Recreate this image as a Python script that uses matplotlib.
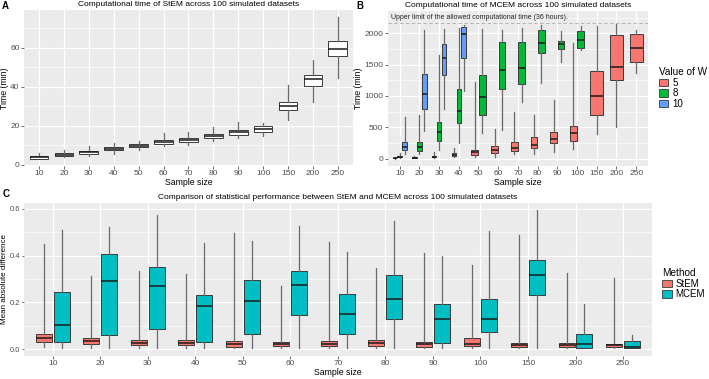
import matplotlib
matplotlib.use("Agg")
import matplotlib.pyplot as plt
from matplotlib.patches import Patch
from matplotlib.ticker import MultipleLocator

plt.rcParams["font.family"] = ["Liberation Sans", "DejaVu Sans"]

sizes = ["10", "20", "30", "40", "50", "60", "70", "80", "90", "100", "150", "200", "250"]

# Panel A: StEM computational time (min), box stats per sample size
stem_lo = [2.9, 3.8, 4.5, 5.5, 7.5, 9.5, 10.0, 11.9, 13.6, 14.5, 22.7, 32.0, 44.4]
stem_q1 = [3.1, 4.5, 5.5, 7.3, 8.8, 10.7, 11.7, 13.8, 15.3, 16.9, 27.8, 40.3, 55.8]
stem_med = [3.8, 5.2, 6.4, 8.2, 9.6, 11.6, 12.7, 14.8, 16.8, 18.3, 29.9, 43.7, 59.3]
stem_q3 = [4.5, 5.9, 7.2, 9.0, 10.5, 12.4, 13.8, 15.8, 17.9, 19.6, 32.0, 46.1, 63.2]
stem_hi = [5.9, 7.3, 9.5, 11.2, 12.1, 16.0, 16.6, 19.2, 22.1, 21.4, 40.6, 53.6, 75.7]

# Panel B: MCEM computational time (min) for W = 5, 8, 10
w5_lo = [0, 2, 10, 25, 30, 30, 68, 79, 111, 147, 386, 508, 1365]
w5_q1 = [3, 8, 22, 38, 57, 90, 121, 163, 243, 279, 692, 1248, 1539]
w5_med = [8, 14, 32, 60, 100, 140, 165, 218, 306, 412, 1005, 1470, 1762]
w5_q3 = [14, 22, 45, 84, 143, 200, 264, 343, 428, 517, 1407, 1973, 1989]
w5_hi = [30, 45, 100, 175, 1230, 470, 746, 703, 936, 1850, 2115, 2147, 2063]

w8_lo = [10, 80, 132, 254, 402, 454, 904, 1206, 1549, 1740]
w8_q1 = [22, 121, 279, 565, 703, 1111, 1195, 1682, 1746, 1761]
w8_med = [30, 185, 422, 762, 989, 1417, 1454, 1850, 1825, 1893]
w8_q3 = [42, 259, 581, 1116, 1338, 1857, 1857, 2052, 1877, 2036]
w8_hi = [95, 690, 1655, 2095, 2079, 2063, 2089, 2131, 2036, 2120]

w10_lo = [80, 438, 798, 1073]
w10_q1 = [132, 787, 1338, 1603]
w10_med = [190, 1031, 1603, 1988]
w10_q3 = [270, 1349, 1825, 2104]
w10_hi = [660, 2063, 2079, 2131]

time_limit = 36 * 60

# Panel C: mean absolute difference
mad_stem_lo = [.008, .007, .006, .006, .004, .004, .004, .004, .003, .003, .003, .003, .003]
mad_stem_q1 = [.029, .021, .017, .017, .011, .014, .013, .014, .011, .013, .011, .008, .010]
mad_stem_med = [.047, .033, .028, .027, .024, .024, .024, .028, .021, .024, .018, .017, .017]
mad_stem_q3 = [.064, .046, .040, .039, .035, .032, .035, .039, .031, .047, .028, .025, .022]
mad_stem_hi = [.451, .311, .336, .321, .495, .269, .456, .346, .412, .360, .488, .325, .304]

mad_mcem_lo = [.004, .003, .004, .004, .004, .004, .004, .004, .004, .004, .007, .004, .003]
mad_mcem_q1 = [.032, .059, .088, .029, .064, .144, .063, .130, .025, .075, .232, .007, .006]
mad_mcem_med = [.102, .292, .269, .183, .207, .276, .149, .215, .131, .131, .315, .022, .011]
mad_mcem_q3 = [.244, .405, .352, .233, .296, .336, .237, .315, .191, .216, .382, .066, .036]
mad_mcem_hi = [.509, .520, .572, .452, .463, .525, .414, .547, .398, .505, .594, .195, .061]

RED = "#F8766D"
GREEN = "#00BA38"
BLUE = "#619CFF"
TEAL = "#00BFC4"
LABEL_SIZE = 6.3


def draw_boxes(ax, pos, width, lo, q1, med, q3, hi, color):
    stats = [dict(whislo=a, q1=b, med=c, q3=d, whishi=e) for a, b, c, d, e in zip(lo, q1, med, q3, hi)]
    ax.bxp(stats, positions=pos, widths=width, patch_artist=True, showfliers=False,
           showcaps=False, manage_ticks=False,
           boxprops=dict(facecolor=color, edgecolor="#3a3a3a", lw=0.7),
           medianprops=dict(color="#1a1a1a", lw=1.1),
           whiskerprops=dict(color="#6a6a6a", lw=0.9))


def style(ax, ymaj, ymin):
    ax.set_facecolor("#EBEBEB")
    for s in ax.spines.values():
        s.set_visible(False)
    ax.set_axisbelow(True)
    ax.yaxis.set_major_locator(MultipleLocator(ymaj))
    ax.yaxis.set_minor_locator(MultipleLocator(ymin))
    ax.grid(True, which="major", color="white", lw=0.9)
    ax.grid(True, which="minor", axis="y", color="white", lw=0.45)
    ax.tick_params(which="major", length=2, width=0.5, color="#333333",
                   labelcolor="#4D4D4D", labelsize=6, pad=1.2)
    ax.tick_params(which="minor", length=0)
    ax.set_xticks(range(len(sizes)))
    ax.set_xticklabels(sizes)
    ax.set_xlim(-0.6, len(sizes) - 0.4)
    ax.set_xlabel("Sample size", fontsize=LABEL_SIZE, labelpad=0.5)


fig = plt.figure(figsize=(7.09, 3.79), dpi=100)

# ---- A
axA = fig.add_axes([0.034, 0.562, 0.4635, 0.4115])
style(axA, 20, 10)
xs = list(range(len(sizes)))
draw_boxes(axA, xs, 0.75, stem_lo, stem_q1, stem_med, stem_q3, stem_hi, "white")
axA.set_ylim(-0.7, 79.3)
axA.set_ylabel("Time (min)", fontsize=LABEL_SIZE, labelpad=1)
axA.set_title("Computational time of StEM across 100 simulated datasets", fontsize=6, pad=3)
fig.text(0.003, 0.985, "A", fontsize=7, fontweight="bold", va="center")

# ---- B
axB = fig.add_axes([0.547, 0.562, 0.367, 0.409])
style(axB, 500, 250)
groups = [(w5_lo, w5_q1, w5_med, w5_q3, w5_hi, RED),
          (w8_lo, w8_q1, w8_med, w8_q3, w8_hi, GREEN),
          (w10_lo, w10_q1, w10_med, w10_q3, w10_hi, BLUE)]
n_per = [sum(1 for g in groups if i < len(g[0])) for i in range(len(sizes))]
for j, (lo, q1, med, q3, hi, col) in enumerate(groups):
    for i in range(len(lo)):
        n = n_per[i]
        x = i - 0.375 + (j + 0.5) * 0.75 / n
        draw_boxes(axB, [x], 0.75 / n * 0.9, [lo[i]], [q1[i]], [med[i]], [q3[i]], [hi[i]], col)
axB.axhline(time_limit, color="#aaaaaa", lw=0.6, ls=(0, (4, 3)))
axB.text(-0.45, 2250, "Upper limit of the allowed computational time (36 hours).",
         fontsize=5, color="#222222", va="center")
axB.set_ylim(-120, 2360)
axB.set_ylabel("Time (min)", fontsize=LABEL_SIZE, labelpad=1)
axB.set_title("Computational time of MCEM across 100 simulated datasets", fontsize=6, pad=3)
fig.text(0.503, 0.985, "B", fontsize=7, fontweight="bold", va="center")
handles = [Patch(facecolor=c, edgecolor="#3a3a3a", lw=0.6) for c in (RED, GREEN, BLUE)]
fig.legend(handles, ["5", "8", "10"], title="Value of W", loc="upper left",
           bbox_to_anchor=(0.922, 0.835), frameon=False, fontsize=7, title_fontsize=7.2,
           handlelength=1.0, handleheight=0.8, labelspacing=0.05, handletextpad=0.4,
           borderpad=0, alignment="left")

# ---- C
axC = fig.add_axes([0.034, 0.062, 0.885, 0.402])
style(axC, 0.2, 0.1)
draw_boxes(axC, [i - 0.1875 for i in xs], 0.3375, mad_stem_lo, mad_stem_q1, mad_stem_med,
           mad_stem_q3, mad_stem_hi, RED)
draw_boxes(axC, [i + 0.1875 for i in xs], 0.3375, mad_mcem_lo, mad_mcem_q1, mad_mcem_med,
           mad_mcem_q3, mad_mcem_hi, TEAL)
axC.set_ylim(-0.027, 0.624)
axC.set_yticks([0.0, 0.2, 0.4, 0.6])
axC.set_yticklabels(["0.0", "0.2", "0.4", "0.6"])
axC.tick_params(axis="y", labelsize=5.4, pad=0.8, length=1.8)
axC.set_ylabel("Mean absolute difference", fontsize=5.8)
axC.yaxis.set_label_coords(-0.0262, 0.5)
axC.set_title("Comparison of statistical performance between StEM and MCEM across 100 simulated datasets",
              fontsize=6, pad=3)
fig.text(0.003, 0.487, "C", fontsize=7, fontweight="bold", va="center")
handles = [Patch(facecolor=c, edgecolor="#3a3a3a", lw=0.6) for c in (RED, TEAL)]
fig.legend(handles, ["StEM", "MCEM"], title="Method", loc="upper left",
           bbox_to_anchor=(0.927, 0.305), frameon=False, fontsize=7, title_fontsize=7.2,
           handlelength=1.0, handleheight=0.8, labelspacing=0.05, handletextpad=0.4,
           borderpad=0, alignment="left")

fig.savefig("out.png", dpi=100)
